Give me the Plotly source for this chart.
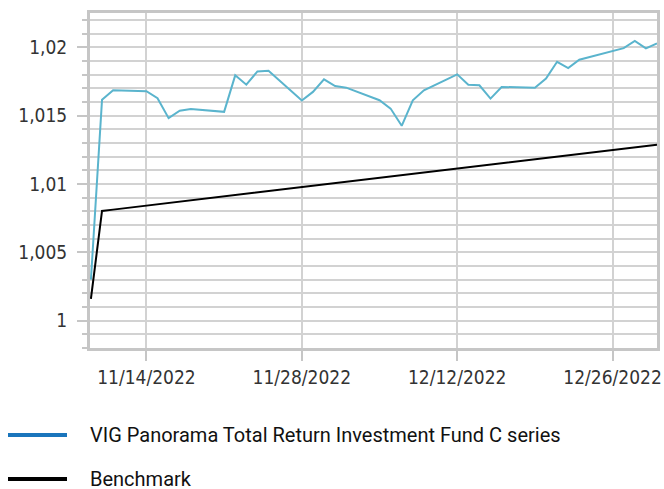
import plotly.graph_objects as go

dates = ["2022-11-09", "2022-11-10", "2022-11-11", "2022-11-14", "2022-11-15", "2022-11-16",
         "2022-11-17", "2022-11-18", "2022-11-21", "2022-11-22", "2022-11-23", "2022-11-24",
         "2022-11-25", "2022-11-28", "2022-11-29", "2022-11-30", "2022-12-01", "2022-12-02",
         "2022-12-05", "2022-12-06", "2022-12-07", "2022-12-08", "2022-12-09", "2022-12-12",
         "2022-12-13", "2022-12-14", "2022-12-15", "2022-12-16", "2022-12-19", "2022-12-20",
         "2022-12-21", "2022-12-22", "2022-12-23", "2022-12-27", "2022-12-28", "2022-12-29",
         "2022-12-30"]

fund = [1.00300, 1.01615, 1.01685, 1.01678, 1.01627, 1.01481,
        1.01535, 1.01547, 1.01527, 1.01794, 1.01726, 1.01823,
        1.01828, 1.01610, 1.01673, 1.01765, 1.01716, 1.01704,
        1.01612, 1.01551, 1.01425, 1.01612, 1.01685, 1.01801,
        1.01726, 1.01721, 1.01624, 1.01709, 1.01704, 1.01770,
        1.01893, 1.01847, 1.01908, 1.01993, 1.02046, 1.01991,
        1.02027]

benchmark = [1.00160, 1.00802, 1.00812, 1.00841, 1.00851, 1.00860,
             1.00870, 1.00880, 1.00909, 1.00918, 1.00928, 1.00938,
             1.00948, 1.00977, 1.00986, 1.00996, 1.01006, 1.01015,
             1.01045, 1.01054, 1.01064, 1.01074, 1.01083, 1.01112,
             1.01122, 1.01132, 1.01142, 1.01151, 1.01180, 1.01190,
             1.01200, 1.01209, 1.01219, 1.01258, 1.01268, 1.01277,
             1.01287]

series_names = ["VIG Panorama Total Return Investment Fund C series", "Benchmark"]
legend_colors = ["#1a75bc", "#000000"]

GRID = "#d2d2d2"
AXIS = "#c6c6c6"
TICKFONT = dict(family="DejaVu Sans Condensed, DejaVu Sans", size=19, color="#333333")

fig = go.Figure()
fig.add_trace(go.Scatter(x=dates, y=fund, mode="lines", name=series_names[0],
                         line=dict(color="#5ab4cd", width=2)))
fig.add_trace(go.Scatter(x=dates, y=benchmark, mode="lines", name=series_names[1],
                         line=dict(color="#000000", width=2)))

# Plot area in page pixels: x 90..657, y 13..348 (page body margin removed below)
W, H = 567.0, 335.0
def px_x(px):
    return (px - 90) / W
def px_y(py):
    return (348 - py) / H

legend_rows = [435, 479]
for name, col, row in zip(series_names, legend_colors, legend_rows):
    fig.add_shape(type="line", xref="paper", yref="paper",
                  x0=px_x(8), x1=px_x(67), y0=px_y(row), y1=px_y(row),
                  line=dict(color=col, width=4))
    fig.add_annotation(xref="paper", yref="paper", x=px_x(89), y=px_y(row),
                       xanchor="left", yanchor="middle", showarrow=False, text=name,
                       borderpad=0,
                       font=dict(family="Roboto, Liberation Sans", size=20, color="#111111"))

fig.update_layout(
    width=664, height=489,
    margin=dict(l=90, r=7, t=13, b=141),
    paper_bgcolor="white", plot_bgcolor="white",
    separators=", ",
    showlegend=False,
    xaxis=dict(type="date", range=["2022-11-08 22:00", "2022-12-30 00:00"],
               tick0="2022-11-14", dtick=14 * 86400000, tickformat="%m/%d/%Y",
               ticks="outside", ticklen=10, tickwidth=2, tickcolor=AXIS,
               showgrid=True, gridcolor=GRID, gridwidth=2,
               showline=True, linecolor=AXIS, linewidth=3, mirror=True,
               zeroline=False, tickfont=TICKFONT, tickangle=0, automargin=False,
               ticklabeloverflow="allow"),
    yaxis=dict(range=[0.998, 1.0225], tick0=1, dtick=0.005,
               ticks="outside", ticklen=10, tickwidth=2, tickcolor=AXIS,
               showgrid=True, gridcolor=GRID, gridwidth=2,
               showline=True, linecolor=AXIS, linewidth=3, mirror=True,
               zeroline=False, tickfont=TICKFONT, ticklabelstandoff=6, automargin=False,
               minor=dict(dtick=0.001, tick0=1, showgrid=True, gridcolor=GRID, gridwidth=2,
                          ticks="outside", ticklen=5, tickwidth=2, tickcolor=AXIS)),
)

fig.write_html("out.html", config={"displayModeBar": False},
               post_script="document.body.style.margin='0';document.body.style.overflow='hidden';")
